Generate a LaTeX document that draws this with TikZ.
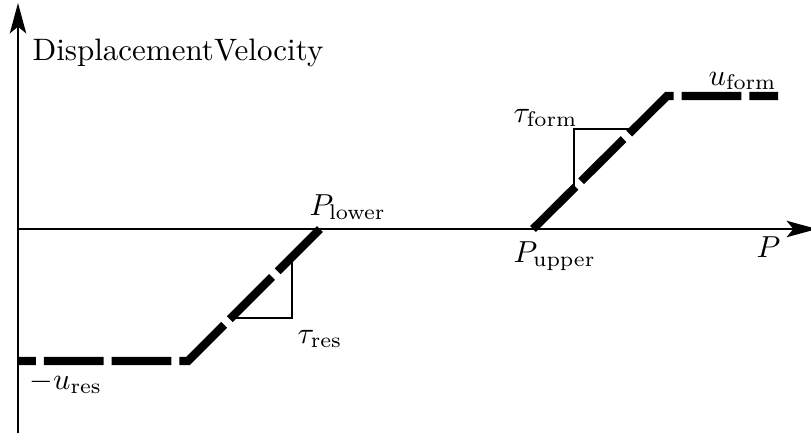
\documentclass[tikz,border=0pt]{standalone}
\usetikzlibrary{arrows.meta}
\begin{document}
\begin{tikzpicture}[x=0.011561cm,y=-0.011561cm,
  axis/.style={line width=0.6pt,-{Stealth[length=10pt,width=5.4pt,inset=2.2pt]}},
  curve/.style={line width=2.7pt,dash pattern=on 19.7pt off 2.6pt},
  slope/.style={line width=0.4pt},
  lbl/.style={inner sep=0pt,anchor=base west,font=\fontsize{10.2}{12}\selectfont}]
\useasboundingbox (0,0) rectangle (811,435);
% coordinates
\coordinate (ybot) at (18,433);
\coordinate (ytop) at (18,3);
\coordinate (xstart) at (18,229);
\coordinate (xend) at (817,229);
\coordinate (Plow) at (320,229);
\coordinate (Cres) at (188,361);
\coordinate (Lres) at (18,361);
\coordinate (Pup) at (533,229);
\coordinate (Cform) at (667,96);
\coordinate (Rform) at (778,96);
\coordinate (Tres1) at (231,318);
\coordinate (Tres2) at (292,318);
\coordinate (Tres3) at (292,257);
\coordinate (Tf1) at (574,188);
\coordinate (Tf2) at (574,129);
\coordinate (Tf3) at (633,129);
% axes
\draw[axis] (ybot) -- (ytop);
\draw[axis] (xstart) -- (xend);
% slope triangles
\draw[slope] (Tres1) -- (Tres2) -- (Tres3);
\draw[slope] (Tf1) -- (Tf2) -- (Tf3);
% curves
\draw[curve] (Plow) -- (Cres) -- (Lres);
\draw[curve] (Pup) -- (Cform) -- (Rform);
% labels
\node[lbl] (ylab) at (32,60.5) {DisplacementVelocity};
\node[lbl] (lplow) at (309,215) {$P_{\mathrm{lower}}$};
\node[lbl] (lpup) at (513,262) {$P_{\mathrm{upper}}$};
\node[lbl] (lp) at (756,257) {$P$};
\node[lbl] (luf) at (708,85) {$u_{\mathrm{form}}$};
\node[lbl] (ltf) at (513,122) {$\tau_{\mathrm{form}}$};
\node[lbl] (ltr) at (297,343) {$\tau_{\mathrm{res}}$};
\node[lbl] (lur) at (29,389) {$-u_{\mathrm{res}}$};
\end{tikzpicture}
\end{document}
